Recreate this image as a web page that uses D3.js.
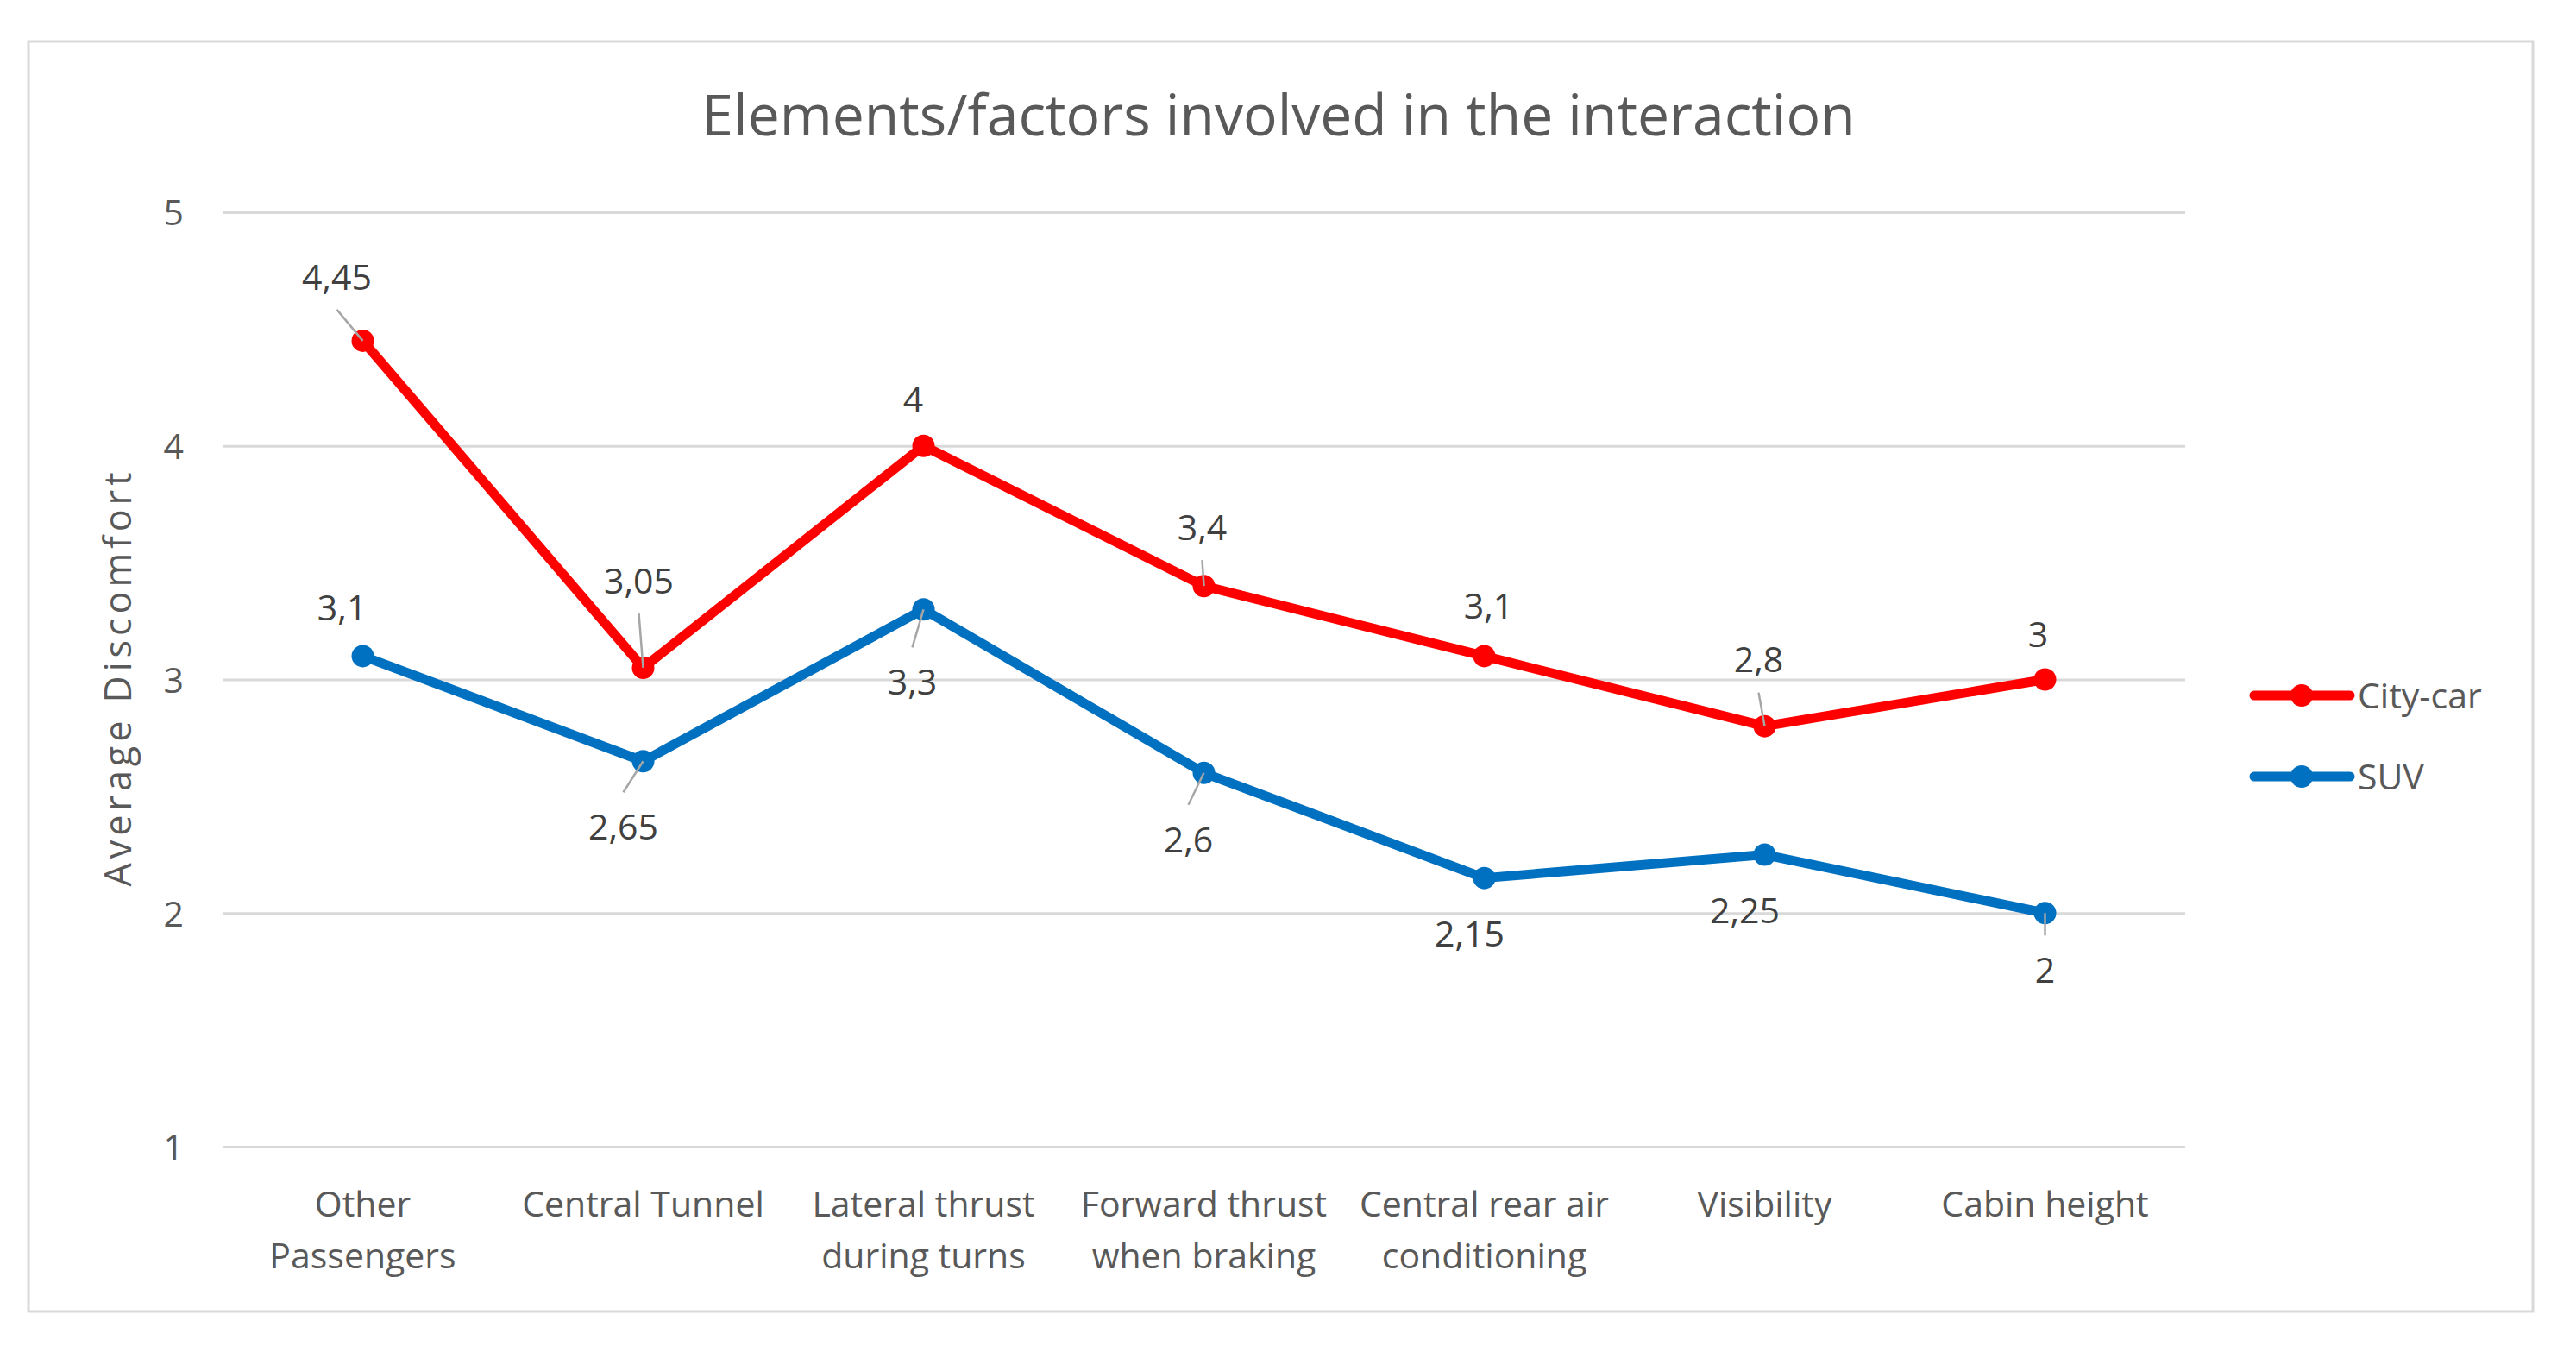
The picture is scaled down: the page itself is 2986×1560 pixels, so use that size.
<!DOCTYPE html>
<html>
<head lang="en">
    <meta charset="UTF-8">
    <title> Elements/factors involved in the interaction </title>
    <script type="text/javascript" src="https://cdn.jsdelivr.net/npm/d3@7/dist/d3.min.js"></script>
    <style>
        body { margin: 0; background: #ffffff; }
        text { font-family: "Open Sans", "Noto Sans", sans-serif; }
    </style>
</head>
<body>
<div id="chart"></div>

<script>

    // Data
    var categories = [
        ["Other", "Passengers"],
        ["Central Tunnel"],
        ["Lateral thrust", "during turns"],
        ["Forward thrust", "when braking"],
        ["Central rear air", "conditioning"],
        ["Visibility"],
        ["Cabin height"]
    ];
    var cityCar = [4.45, 3.05, 4, 3.4, 3.1, 2.8, 3];
    var suv     = [3.1, 2.65, 3.3, 2.6, 2.15, 2.25, 2];
    var yTicks  = [1, 2, 3, 4, 5];
    var seriesNames = ["City-car", "SUV"];

    // label placement (offset of label centre from its point, leader line on/off)
    var cityLabelPos = [[-30, -74, 1], [-5, -101, 1], [-12, -54, 0], [-2, -68, 1], [5, -58, 0], [-7, -77, 1], [-8, -52, 0]];
    var suvLabelPos  = [[-24, -56, 0], [-23, 76, 1], [-13, 84, 1], [-18, 77, 1], [-17, 65, 0], [-23, 65, 0], [0, 66, 1]];

    var colors = ["#ff0000", "#0070c0"];
    var W = 2986, H = 1560;
    var plot = {left: 258, right: 2533, top: 246, bottom: 1329};

    var svg = d3.select("#chart").append("svg")
            .attr("width", W)
            .attr("height", H);

    // chart border
    svg.append("rect")
            .attr("x", 33).attr("y", 48)
            .attr("width", 2903).attr("height", 1472)
            .style("fill", "white")
            .style("stroke", "#d9d9d9")
            .style("stroke-width", 3);

    var x = d3.scaleBand()
            .domain(d3.range(categories.length))
            .range([plot.left, plot.right])
            .padding(0);

    var y = d3.scaleLinear()
            .domain([1, 5])
            .range([plot.bottom, plot.top]);

    var cx = function (i) { return x(i) + x.bandwidth() / 2; };

    // title
    svg.append("text")
            .attr("x", 1482).attr("y", 157)
            .attr("text-anchor", "middle")
            .style("font-size", "66px")
            .style("fill", "#595959")
            .text("Elements/factors involved in the interaction");

    // gridlines + y axis labels
    var yAxis = d3.axisLeft(y)
            .tickValues(yTicks)
            .tickSize(-(plot.right - plot.left))
            .tickPadding(45)
            .tickFormat(d3.format("d"));

    var gy = svg.append("g")
            .attr("transform", "translate(" + plot.left + ",0)")
            .call(yAxis);
    gy.select(".domain").remove();
    gy.selectAll(".tick line")
            .style("stroke", "#d9d9d9")
            .style("stroke-width", 3);
    gy.selectAll(".tick text")
            .style("font-size", "41px")
            .style("font-family", "'Open Sans', sans-serif")
            .style("fill", "#595959")
            .attr("dy", "0.36em");

    // y axis title
    svg.append("text")
            .attr("transform", "translate(152,785) rotate(-90)")
            .attr("text-anchor", "middle")
            .style("font-size", "43px")
            .style("letter-spacing", "5px")
            .style("fill", "#595959")
            .text("Average Discomfort");

    // x category labels
    var xl = svg.append("g").selectAll("text")
            .data(categories).enter().append("text")
            .attr("x", function (d, i) { return cx(i); })
            .attr("y", 1410)
            .attr("text-anchor", "middle")
            .style("font-size", "41px")
            .style("fill", "#595959");
    xl.selectAll("tspan")
            .data(function (d) { return d; }).enter().append("tspan")
            .attr("x", function () { return this.parentNode.getAttribute("x"); })
            .attr("dy", function (d, i) { return i === 0 ? 0 : 60; })
            .text(function (d) { return d; });

    // lines
    var line = d3.line()
            .x(function (d, i) { return cx(i); })
            .y(function (d) { return y(d); });

    var series = [cityCar, suv];
    var labelPos = [cityLabelPos, suvLabelPos];

    series.forEach(function (vals, s) {
        svg.append("path")
                .datum(vals)
                .attr("d", line)
                .style("fill", "none")
                .style("stroke", colors[s])
                .style("stroke-width", 11)
                .style("stroke-linejoin", "round")
                .style("stroke-linecap", "round");

        svg.append("g").selectAll("circle")
                .data(vals).enter().append("circle")
                .attr("cx", function (d, i) { return cx(i); })
                .attr("cy", function (d) { return y(d); })
                .attr("r", 13)
                .style("fill", colors[s]);
    });

    // data labels with leader lines
    series.forEach(function (vals, s) {
        var g = svg.append("g");
        vals.forEach(function (v, i) {
            var p = labelPos[s][i];
            var px = cx(i), py = y(v);
            var lx = px + p[0], ly = py + p[1];
            if (p[2]) {
                var ey = p[1] < 0 ? ly + 38 : ly - 40;
                g.append("line")
                        .attr("x1", lx).attr("y1", ey)
                        .attr("x2", px).attr("y2", py)
                        .style("stroke", "#a6a6a6")
                        .style("stroke-width", 2.5);
            }
            g.append("text")
                    .attr("x", lx).attr("y", ly)
                    .attr("dy", "0.36em")
                    .attr("text-anchor", "middle")
                    .style("font-size", "41px")
                    .style("fill", "#404040")
                    .text(String(v).replace(".", ","));
        });
    });

    // legend
    var legendY = [806, 900];
    var lg = svg.append("g").selectAll("g")
            .data(seriesNames).enter().append("g")
            .attr("transform", function (d, i) { return "translate(0," + legendY[i] + ")"; });
    lg.append("line")
            .attr("x1", 2613).attr("x2", 2724)
            .attr("y1", 0).attr("y2", 0)
            .style("stroke", function (d, i) { return colors[i]; })
            .style("stroke-width", 11)
            .style("stroke-linecap", "round");
    lg.append("circle")
            .attr("cx", 2668).attr("cy", 0).attr("r", 13)
            .style("fill", function (d, i) { return colors[i]; });
    lg.append("text")
            .attr("x", 2733).attr("y", 0)
            .attr("dy", "0.36em")
            .style("font-size", "41px")
            .style("fill", "#595959")
            .text(function (d) { return d; });

</script>
</body>
</html>
